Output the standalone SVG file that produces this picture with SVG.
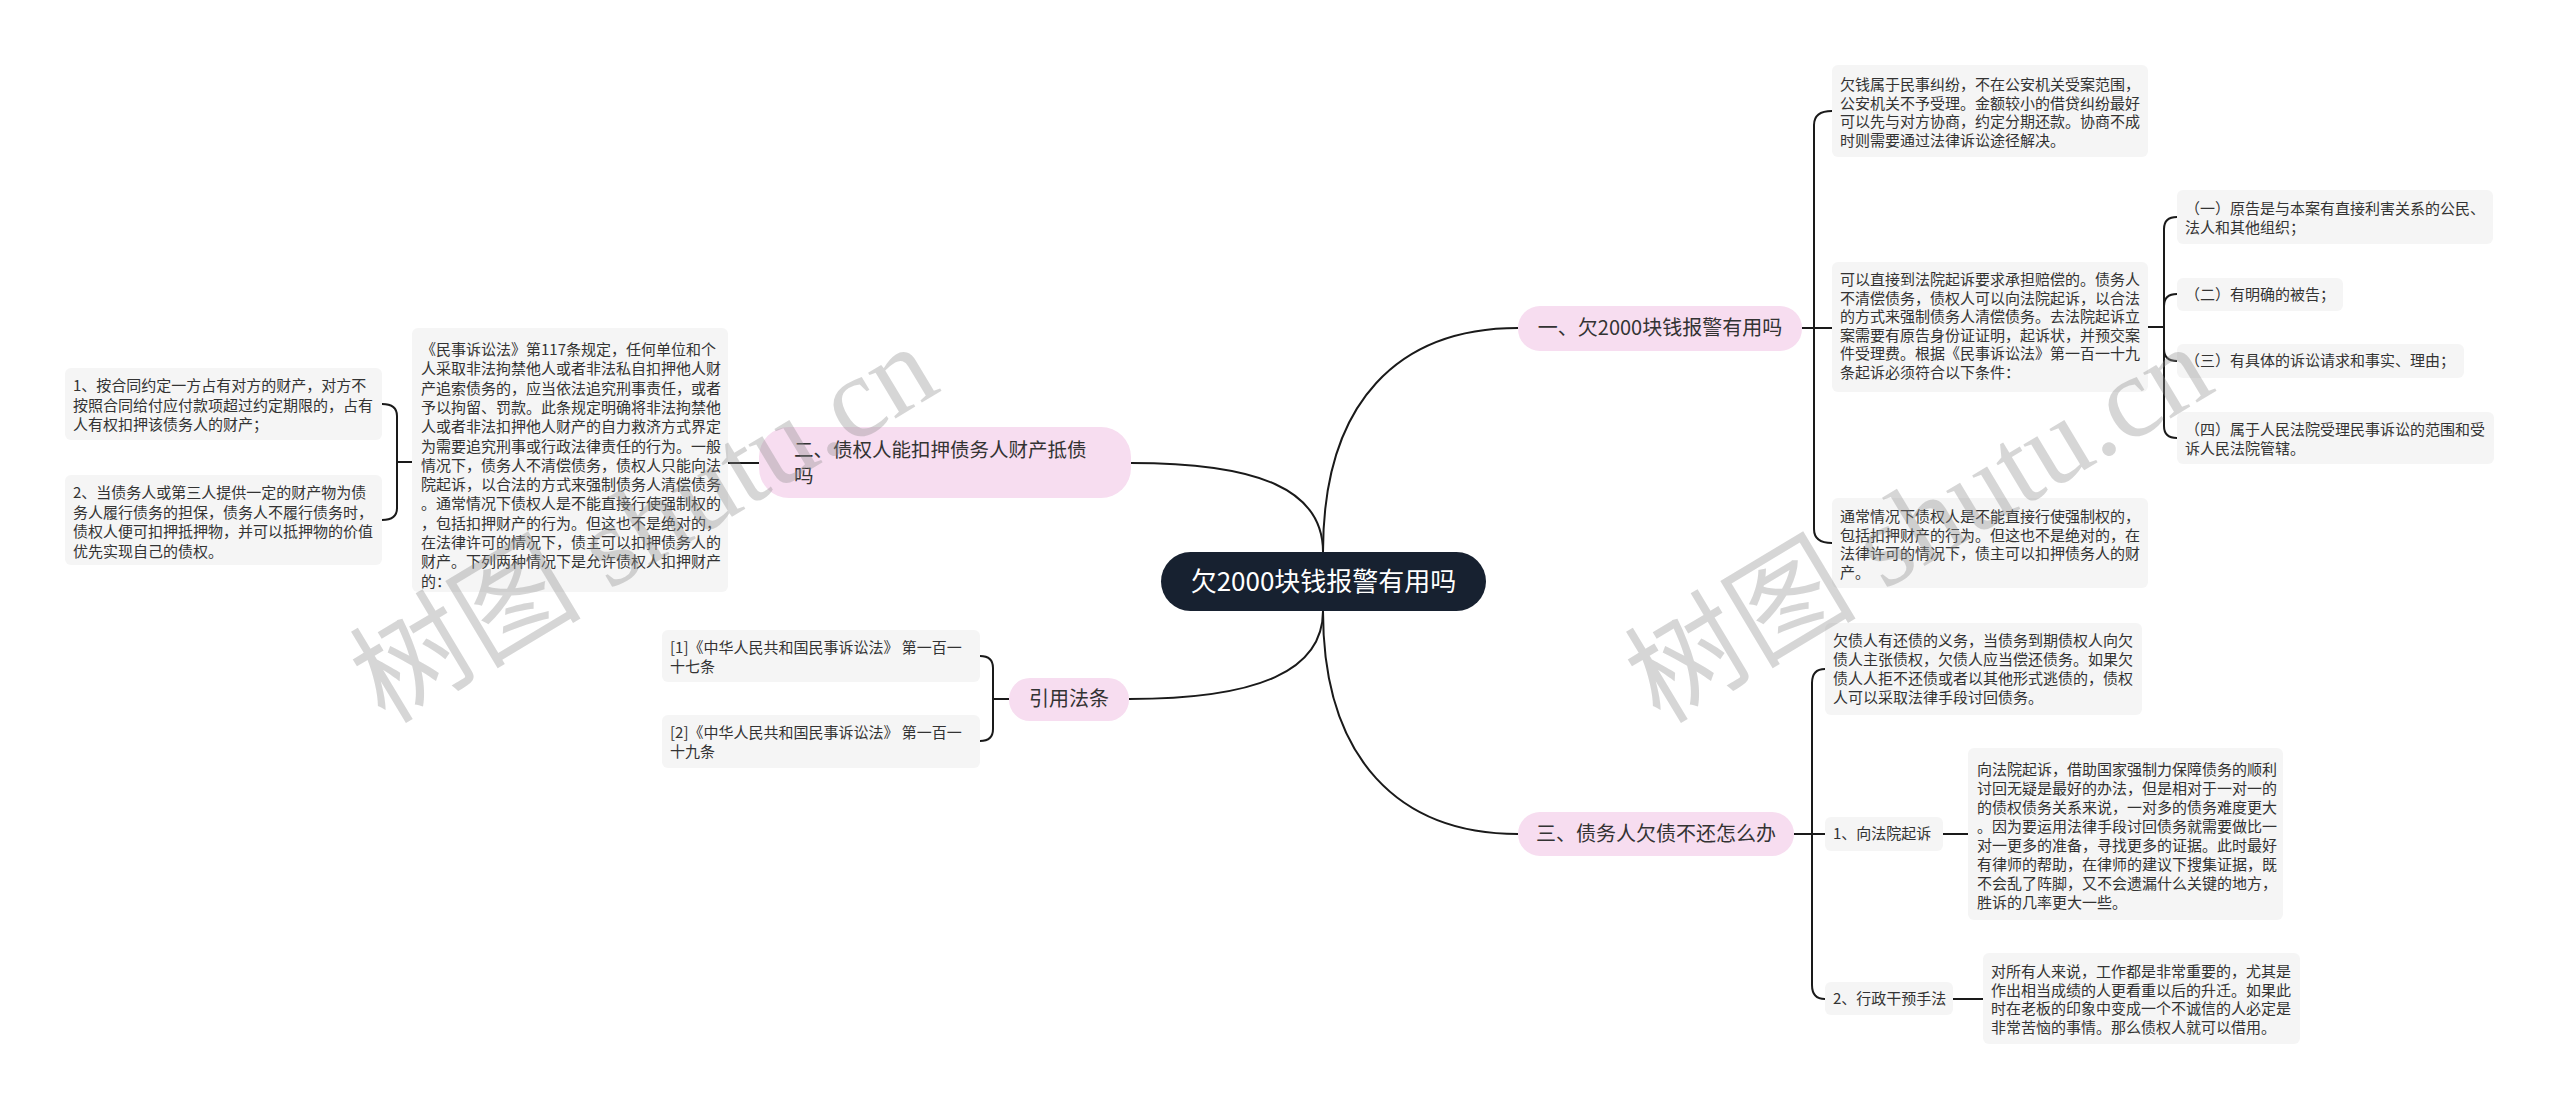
<svg xmlns="http://www.w3.org/2000/svg" width="2560" height="1110" viewBox="0 0 2560 1110">
<style>
.lf{fill:#f5f5f5}
.br{fill:#f7ddf0}
.t{font-family:"Noto Sans CJK SC","Noto Sans",sans-serif;font-size:15px;fill:#333}
.tb{font-family:"Noto Sans CJK SC","Noto Sans",sans-serif;font-size:20px;fill:#333}
.tc{font-family:"Noto Sans CJK SC","Noto Sans",sans-serif;font-size:26px;fill:#fff}
.c{fill:none;stroke:#1a1a1a;stroke-width:2}
.wm{font-family:"Liberation Serif","Noto Sans CJK SC",serif;font-size:116px;fill:#8c8c8c;fill-opacity:0.36}
</style>
<rect width="2560" height="1110" fill="#fff"/>
<g id="connectors" class="c">
<path d="M1323 552 C1323 400 1400 328 1518 328"/>
<path d="M1323 552 C1323 490 1260 463 1131 463"/>
<path d="M1323 611 C1323 670 1260 699 1129 699"/>
<path d="M1323 611 C1323 760 1400 834 1518 834"/>
<path d="M1802 328 H1814 V125 Q1814 111 1832 111"/>
<path d="M1802 328 H1832"/>
<path d="M1814 328 V529 Q1814 543 1832 543"/>
<path d="M2148 327 H2164 V229 Q2164 217 2177 217"/>
<path d="M2164 327 V306 Q2164 294 2177 294"/>
<path d="M2164 327 V349 Q2164 361 2177 361"/>
<path d="M2164 327 V426 Q2164 438 2177 438"/>
<path d="M1794 834 H1812 V683 Q1812 669 1825 669"/>
<path d="M1794 834 H1825"/>
<path d="M1812 834 V985 Q1812 999 1825 999"/>
<path d="M1943 834 H1968"/>
<path d="M1953 999 H1983"/>
<path d="M1009 699 H993 V668 Q993 656 980 656"/>
<path d="M993 699 V729 Q993 741 980 741"/>
<path d="M759 463 H728"/>
<path d="M412 462 H397 V416 Q397 404 382 404"/>
<path d="M397 462 V508 Q397 520 382 520"/>
</g>
<g id="center">
<rect x="1161" y="552" width="325" height="59" rx="29.5" fill="#172130"/>
<text class="tc" x="1323.5" y="591" text-anchor="middle">欠2000块钱报警有用吗</text>
</g>
<g id="b1">
<rect class="br" x="1518" y="306" width="284" height="45" rx="22"/>
<text class="tb" x="1660" y="335" text-anchor="middle">一、欠2000块钱报警有用吗</text>
</g>
<g id="b2">
<rect class="br" x="759" y="427" width="372" height="71" rx="30"/>
<text class="tb" x="794" y="457" style="font-size:19.5px">二、债权人能扣押债务人财产抵债</text>
<text class="tb" x="794" y="483" style="font-size:19.5px">吗</text>
</g>
<g id="b3">
<rect class="br" x="1009" y="678" width="120" height="43" rx="21"/>
<text class="tb" x="1069" y="706" text-anchor="middle">引用法条</text>
</g>
<g id="b4">
<rect class="br" x="1518" y="812" width="276" height="44" rx="22"/>
<text class="tb" x="1656" y="841" text-anchor="middle">三、债务人欠债不还怎么办</text>
</g>
<g id="l1">
<rect class="lf" x="65" y="368" width="317" height="72" rx="6"/>
<text class="t" x="73" y="391">1、按合同约定一方占有对方的财产，对方不</text>
<text class="t" x="73" y="410.5">按照合同给付应付款项超过约定期限的，占有</text>
<text class="t" x="73" y="430">人有权扣押该债务人的财产；</text>
</g>
<g id="l2">
<rect class="lf" x="65" y="475" width="317" height="90" rx="6"/>
<text class="t" x="73" y="498">2、当债务人或第三人提供一定的财产物为债</text>
<text class="t" x="73" y="517.5">务人履行债务的担保，债务人不履行债务时，</text>
<text class="t" x="73" y="537">债权人便可扣押抵押物，并可以抵押物的价值</text>
<text class="t" x="73" y="556.5">优先实现自己的债权。</text>
</g>
<g id="bl">
<rect class="lf" x="412" y="328" width="316" height="264" rx="6"/>
<text class="t" x="421" y="355">《民事诉讼法》第117条规定，任何单位和个</text>
<text class="t" x="421" y="374.3">人采取非法拘禁他人或者非法私自扣押他人财</text>
<text class="t" x="421" y="393.6">产追索债务的，应当依法追究刑事责任，或者</text>
<text class="t" x="421" y="412.9">予以拘留、罚款。此条规定明确将非法拘禁他</text>
<text class="t" x="421" y="432.2">人或者非法扣押他人财产的自力救济方式界定</text>
<text class="t" x="421" y="451.5">为需要追究刑事或行政法律责任的行为。一般</text>
<text class="t" x="421" y="470.8">情况下，债务人不清偿债务，债权人只能向法</text>
<text class="t" x="421" y="490.1">院起诉，以合法的方式来强制债务人清偿债务</text>
<text class="t" x="421" y="509.4">。通常情况下债权人是不能直接行使强制权的</text>
<text class="t" x="421" y="528.7">，包括扣押财产的行为。但这也不是绝对的，</text>
<text class="t" x="421" y="548">在法律许可的情况下，债主可以扣押债务人的</text>
<text class="t" x="421" y="567.3">财产。下列两种情况下是允许债权人扣押财产</text>
<text class="t" x="421" y="586.6">的：</text>
</g>
<g id="c1">
<rect class="lf" x="662" y="630" width="318" height="52" rx="6"/>
<text class="t" x="670" y="653">[1]《中华人民共和国民事诉讼法》 第一百一</text>
<text class="t" x="670" y="672">十七条</text>
</g>
<g id="c2">
<rect class="lf" x="662" y="715" width="318" height="53" rx="6"/>
<text class="t" x="670" y="738">[2]《中华人民共和国民事诉讼法》 第一百一</text>
<text class="t" x="670" y="757">十九条</text>
</g>
<g id="la">
<rect class="lf" x="1832" y="65" width="316" height="92" rx="6"/>
<text class="t" x="1840" y="90">欠钱属于民事纠纷，不在公安机关受案范围，</text>
<text class="t" x="1840" y="108.5">公安机关不予受理。金额较小的借贷纠纷最好</text>
<text class="t" x="1840" y="127">可以先与对方协商，约定分期还款。协商不成</text>
<text class="t" x="1840" y="145.5">时则需要通过法律诉讼途径解决。</text>
</g>
<g id="lb">
<rect class="lf" x="1832" y="262" width="316" height="130" rx="6"/>
<text class="t" x="1840" y="285">可以直接到法院起诉要求承担赔偿的。债务人</text>
<text class="t" x="1840" y="303.5">不清偿债务，债权人可以向法院起诉，以合法</text>
<text class="t" x="1840" y="322">的方式来强制债务人清偿债务。去法院起诉立</text>
<text class="t" x="1840" y="340.5">案需要有原告身份证证明，起诉状，并预交案</text>
<text class="t" x="1840" y="359">件受理费。根据《民事诉讼法》第一百一十九</text>
<text class="t" x="1840" y="377.5">条起诉必须符合以下条件：</text>
</g>
<g id="s1">
<rect class="lf" x="2177" y="190" width="316" height="54" rx="6"/>
<text class="t" x="2185" y="214">（一）原告是与本案有直接利害关系的公民、</text>
<text class="t" x="2185" y="233">法人和其他组织；</text>
</g>
<g id="s2">
<rect class="lf" x="2177" y="278" width="166" height="33" rx="6"/>
<text class="t" x="2185" y="300">（二）有明确的被告；</text>
</g>
<g id="s3">
<rect class="lf" x="2177" y="344" width="287" height="34" rx="6"/>
<text class="t" x="2185" y="366">（三）有具体的诉讼请求和事实、理由；</text>
</g>
<g id="s4">
<rect class="lf" x="2177" y="412" width="317" height="52" rx="6"/>
<text class="t" x="2185" y="435">（四）属于人民法院受理民事诉讼的范围和受</text>
<text class="t" x="2185" y="454">诉人民法院管辖。</text>
</g>
<g id="lc">
<rect class="lf" x="1832" y="498" width="316" height="90" rx="6"/>
<text class="t" x="1840" y="522">通常情况下债权人是不能直接行使强制权的，</text>
<text class="t" x="1840" y="540.5">包括扣押财产的行为。但这也不是绝对的，在</text>
<text class="t" x="1840" y="559">法律许可的情况下，债主可以扣押债务人的财</text>
<text class="t" x="1840" y="577.5">产。</text>
</g>
<g id="ld">
<rect class="lf" x="1825" y="623" width="317" height="92" rx="6"/>
<text class="t" x="1833" y="646">欠债人有还债的义务，当债务到期债权人向欠</text>
<text class="t" x="1833" y="665">债人主张债权，欠债人应当偿还债务。如果欠</text>
<text class="t" x="1833" y="684">债人人拒不还债或者以其他形式逃债的，债权</text>
<text class="t" x="1833" y="703">人可以采取法律手段讨回债务。</text>
</g>
<g id="le">
<rect class="lf" x="1825" y="817" width="118" height="34" rx="6"/>
<text class="t" x="1833" y="839">1、向法院起诉</text>
</g>
<g id="lf">
<rect class="lf" x="1968" y="748" width="315" height="172" rx="6"/>
<text class="t" x="1977" y="775">向法院起诉，借助国家强制力保障债务的顺利</text>
<text class="t" x="1977" y="794">讨回无疑是最好的办法，但是相对于一对一的</text>
<text class="t" x="1977" y="813">的债权债务关系来说，一对多的债务难度更大</text>
<text class="t" x="1977" y="832">。因为要运用法律手段讨回债务就需要做比一</text>
<text class="t" x="1977" y="851">对一更多的准备，寻找更多的证据。此时最好</text>
<text class="t" x="1977" y="870">有律师的帮助，在律师的建议下搜集证据，既</text>
<text class="t" x="1977" y="889">不会乱了阵脚，又不会遗漏什么关键的地方，</text>
<text class="t" x="1977" y="908">胜诉的几率更大一些。</text>
</g>
<g id="lg">
<rect class="lf" x="1825" y="982" width="128" height="33" rx="6"/>
<text class="t" x="1833" y="1004">2、行政干预手法</text>
</g>
<g id="lh">
<rect class="lf" x="1983" y="953" width="317" height="91" rx="6"/>
<text class="t" x="1991" y="977">对所有人来说，工作都是非常重要的，尤其是</text>
<text class="t" x="1991" y="995.5">作出相当成绩的人更看重以后的升迁。如果此</text>
<text class="t" x="1991" y="1014">时在老板的印象中变成一个不诚信的人必定是</text>
<text class="t" x="1991" y="1032.5">非常苦恼的事情。那么债权人就可以借用。</text>
</g>
<g id="watermarks">
<text class="wm" x="385" y="725" transform="rotate(-31 385 725)">树图 shutu.cn</text>
<text class="wm" x="1660" y="725" transform="rotate(-31 1660 725)">树图 shutu.cn</text>
</g>
</svg>
